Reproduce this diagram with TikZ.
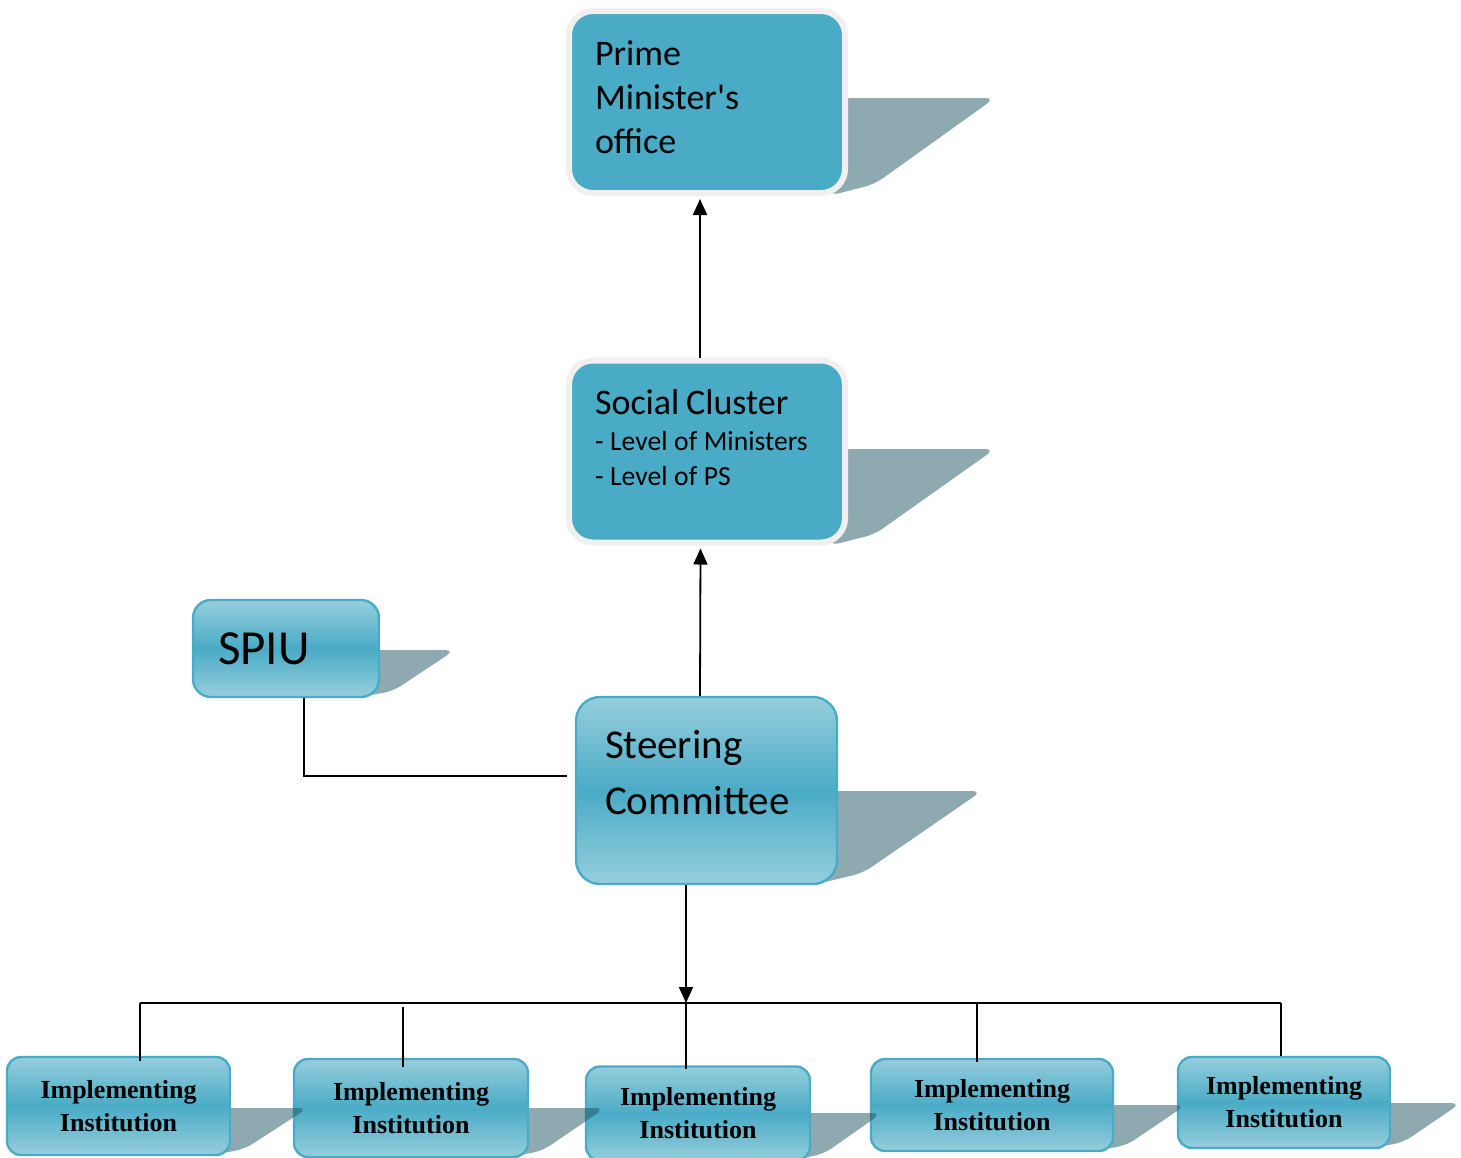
\documentclass[tikz,border=0pt]{standalone}
\usepackage{fontspec}
\setmainfont{Carlito}
\newfontfamily\instfont{Liberation Serif}
\usetikzlibrary{arrows.meta}

\definecolor{boxteal}{RGB}{74,171,198}
\definecolor{boxlight}{RGB}{150,206,221}
\definecolor{boxrim}{RGB}{240,240,240}
\definecolor{shadowteal}{RGB}{29,85,97}

\tikzset{
  flatbox/.style={draw=boxrim, line width=3pt, fill=boxteal, rounded corners=12pt,
    align=left, inner xsep=13pt, inner ysep=0pt, minimum width=138pt, minimum height=91pt, text width=112pt},
  glossbox/.style={draw=boxteal, line width=1.2pt, top color=boxlight, bottom color=boxlight,
    middle color=boxteal, rounded corners=9pt, inner ysep=0pt},
  instbox/.style={glossbox, align=center, rounded corners=7pt,
    font=\instfont\bfseries\fontsize{13pt}{16.5pt}\selectfont},
  shadowpart/.style={fill=shadowteal, fill opacity=0.5, rounded corners=5pt},
  link/.style={line width=0.9pt},
  uplink/.style={link, -{Triangle[length=8pt,width=7pt]}}
}

% shadow behind a box: right edge, middle y, bottom y, tip x
\newcommand{\castshadow}[4]{%
  \fill[shadowpart] ({#1-10},#2) -- (#4,#2) -- ({#1+0.18*(#4-#1)},{#3-0.12*(#3-#2)}) -- ({#1-20},#3) -- cycle;}

\begin{document}
\begin{tikzpicture}[x=0.5pt,y=-0.5pt]
\useasboundingbox (0,0) rectangle (1461,1157);

% top levels
\castshadow{848}{98}{196}{995}
\node[flatbox, text height=13pt, text depth=50pt, font=\fontsize{18pt}{22pt}\selectfont] (pm) at (707,102)
  {Prime\\Minister\textquotesingle s\\office};

\castshadow{848}{449}{546}{995}
\node[flatbox, text height=13pt, text depth=50.5pt] (sc) at (707,451.5)
  {{\fontsize{18pt}{20pt}\selectfont Social Cluster\par}\vspace{0.5pt}
   {\fontsize{13.8pt}{17.5pt}\selectfont - Level of Ministers\\- Level of PS\par}};

\castshadow{379}{650}{697}{455}
\node[glossbox, align=left, inner xsep=12.5pt, text width=68pt, minimum height=48.5pt,
  font=\fontsize{24.5pt}{28pt}\selectfont] (spiu) at (286,648.5) {SPIU};

\castshadow{837}{791}{884}{982}
\node[glossbox, align=left, inner xsep=14.5pt, text width=101.5pt, minimum height=93.5pt,
  text height=15pt, text depth=47.5pt, rounded corners=12pt,
  font=\fontsize{20.5pt}{28pt}\selectfont] (stc) at (706.5,790.5)
  {Steering\\Committee};

% implementing institutions, right to left
\castshadow{1390}{1103}{1148}{1461}
\node[instbox, minimum width=106pt, minimum height=45.5pt] (inst5) at (1284,1102.5)
  {Implementing\\Institution};
\castshadow{1113}{1105}{1151}{1186}
\node[instbox, minimum width=121pt, minimum height=46pt] (inst4) at (992,1105)
  {Implementing\\Institution};
\castshadow{810}{1113}{1160}{882}
\node[instbox, minimum width=112pt, minimum height=47pt] (inst3) at (698,1113.5)
  {Implementing\\Institution};
\castshadow{528}{1108}{1157}{605}
\node[instbox, minimum width=117pt, minimum height=49pt] (inst2) at (411,1108)
  {Implementing\\Institution};
\castshadow{230}{1108}{1155}{308}
\node[instbox, minimum width=111.5pt, minimum height=49pt] (inst1) at (118.5,1106)
  {Implementing\\Institution};

% connectors
\draw[uplink, shorten >=1.5pt] ([xshift=-3.5pt]sc.north) -- ([xshift=-3.5pt]pm.south);
\draw[uplink, shorten >=1.5pt] ([xshift=-3.25pt]stc.north) -- ([xshift=-3.25pt]sc.south);

\coordinate (spiuin) at (567,776);
\draw[link] ([xshift=9pt]spiu.south) |- (spiuin);

\coordinate (bus) at (686,1003);
\coordinate (t1) at (140,1003);
\coordinate (t2) at (403,1007);
\coordinate (t4) at (977,1003);
\coordinate (t5) at (1281,1003);
\draw[uplink] (bus |- stc.south) -- (bus);
\draw[link] (t1) -- (t5);
\draw[link] (t1) -- ([yshift=-2.5pt]t1 |- inst1.north);
\draw[link] (t2) -- ([yshift=-4.5pt]t2 |- inst2.north);
\draw[link] (bus) -- ([yshift=-2pt]bus |- inst3.north);
\draw[link] (t4) -- ([yshift=-2pt]t4 |- inst4.north);
\draw[link] (t5) -- (t5 |- inst5.north);
\end{tikzpicture}
\end{document}
